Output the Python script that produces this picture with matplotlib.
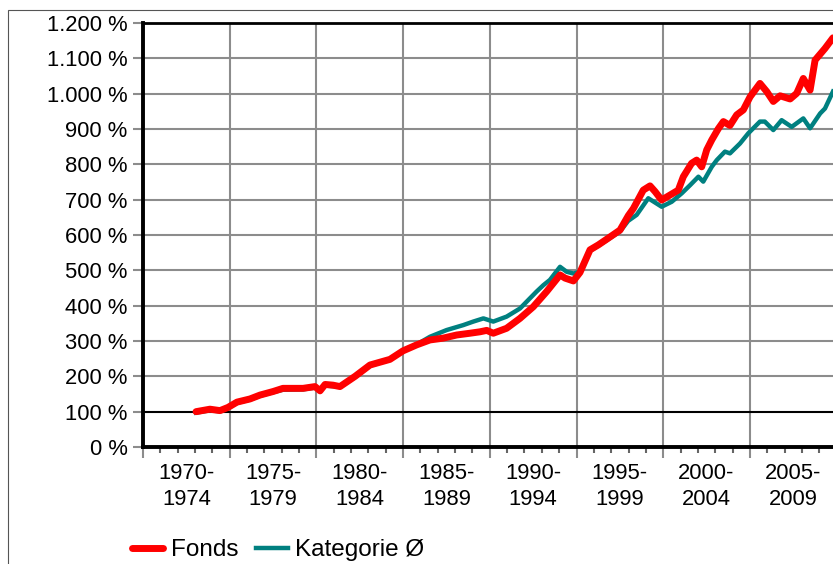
import matplotlib
matplotlib.use("Agg")
import matplotlib.pyplot as plt
from matplotlib.patches import Rectangle
from matplotlib.ticker import FuncFormatter

# years since 1970 (decimal) and value in %
fonds_x = [3.06, 3.86, 4.44, 4.90, 5.42, 6.17, 6.75, 7.50, 8.07, 9.23, 9.92, 10.21,
           10.50, 10.96, 11.36, 12.23, 13.09, 14.24, 14.99, 15.78, 16.55, 17.30,
           18.09, 18.86, 19.43, 19.82, 20.20, 20.97, 21.74, 22.51, 23.28, 24.05,
           24.34, 24.82, 25.20, 25.78, 26.26, 26.74, 27.51, 27.99, 28.28, 28.85,
           29.24, 29.53, 29.91, 30.39, 30.87, 31.16, 31.64, 31.93, 32.22, 32.51,
           32.80, 33.18, 33.47, 33.85, 34.24, 34.62, 35.01, 35.58, 35.97, 36.35,
           36.74, 37.32, 37.70, 38.08, 38.47, 38.76, 39.33, 39.79]
fonds_y = [100, 107, 103, 112, 127, 136, 147, 157, 166, 166, 171, 159,
           177, 175, 171, 200, 232, 248, 272, 289, 303, 308,
           317, 322, 326, 330, 322, 336, 364, 397, 440, 487,
           478, 470, 494, 558, 572, 588, 614, 655, 675, 727,
           739, 723, 699, 713, 727, 765, 803, 812, 793, 841,
           869, 901, 921, 910, 940, 954, 991, 1029, 1006, 978,
           994, 985, 1001, 1043, 1010, 1095, 1128, 1158]

kat_x = [3.06, 3.86, 4.44, 4.90, 5.42, 6.17, 6.75, 7.50, 8.07, 9.23, 9.92, 10.21,
         10.50, 10.96, 11.36, 12.23, 13.09, 14.24, 14.99, 15.78, 16.55, 17.51,
         18.47, 19.05, 19.63, 20.20, 20.97, 21.74, 22.32, 22.70, 23.09, 23.47,
         24.05, 24.43, 24.82, 25.20, 25.78, 26.74, 27.51, 27.98, 28.47, 29.14,
         29.91, 30.49, 31.07, 31.55, 32.03, 32.31, 32.80, 33.09, 33.56, 33.85,
         34.43, 34.91, 35.58, 35.86, 36.35, 36.83, 37.41, 38.08, 38.47, 39.05,
         39.33, 39.79]
kat_y = [97, 104, 101, 110, 125, 134, 145, 155, 162, 163, 168, 158,
         174, 172, 170, 198, 230, 247, 272, 290, 312, 331,
         345, 355, 364, 355, 369, 392, 421, 440, 458, 473,
         510, 496, 491, 496, 555, 585, 610, 640, 657, 704,
         680, 694, 718, 741, 765, 751, 793, 812, 836, 831,
         859, 888, 921, 921, 897, 925, 906, 930, 902, 944,
         958, 1006]

periods = ["1970-\n1974", "1975-\n1979", "1980-\n1984", "1985-\n1989",
           "1990-\n1994", "1995-\n1999", "2000-\n2004", "2005-\n2009"]

plt.rcParams['font.family'] = ['Liberation Sans', 'DejaVu Sans']

fig = plt.figure(figsize=(8.33, 5.64), dpi=100)
ax = fig.add_axes([143 / 833, 1 - 447 / 564, 693.6 / 833, 424 / 564])

ax.set_xlim(0, 40)
ax.set_ylim(0, 1200)

# grid
for v in range(200, 1200, 100):
    ax.axhline(v, color='#8c8c8c', lw=1.5, zorder=1)
for b in range(5, 40, 5):
    ax.axvline(b, color='#8c8c8c', lw=1.5, zorder=1)
ax.axhline(100, color='black', lw=1.5, zorder=2)

ax.plot(kat_x, kat_y, color='#008080', lw=3.2, label='Kategorie Ø', zorder=3,
        solid_joinstyle='round')
ax.plot(fonds_x, fonds_y, color='#ff0000', lw=5.0, label='Fonds', zorder=4,
        solid_joinstyle='round', solid_capstyle='round')

# spines
for s in ['left', 'bottom']:
    ax.spines[s].set_linewidth(2.8)
ax.spines['top'].set_linewidth(2.0)
ax.spines['right'].set_visible(False)

# y axis
ax.set_yticks(range(0, 1300, 100))
ax.yaxis.set_major_formatter(FuncFormatter(lambda v, p: f"{int(v):,} %".replace(',', '.')))
ax.tick_params(axis='y', length=7.5, width=1.5, color='#8c8c8c', pad=3.5,
               labelsize=15.8)

# x axis: boundaries as major ticks, years as minor ticks
ax.set_xticks(range(0, 41, 5))
ax.set_xticks([y for y in range(1, 40) if y % 5], minor=True)
ax.set_xticklabels([])
ax.tick_params(axis='x', which='major', length=8, width=1.5, color='#8c8c8c')
ax.tick_params(axis='x', which='minor', length=4, width=1.5, color='#666666')
for i, lab in enumerate(periods):
    ax.text(i * 5 + 2.5, -0.038, lab, transform=ax.get_xaxis_transform(),
            ha='center', va='top', fontsize=15.8, linespacing=1.3)

h, l = ax.get_legend_handles_labels()
leg = fig.legend(h[::-1], l[::-1], loc='center left', bbox_to_anchor=(122 / 833, 1 - 550 / 564),
                 ncol=2, frameon=False, fontsize=17.5, handlelength=1.3,
                 handletextpad=0.3, columnspacing=0.75, borderaxespad=0)

# outer chart border
fig.patches.append(Rectangle((8 / 833, -0.1), 1.2, 1.1 - 10 / 564, transform=fig.transFigure,
                             fill=False, ec='#555555', lw=0.8))

fig.savefig('out.png', dpi=100)
